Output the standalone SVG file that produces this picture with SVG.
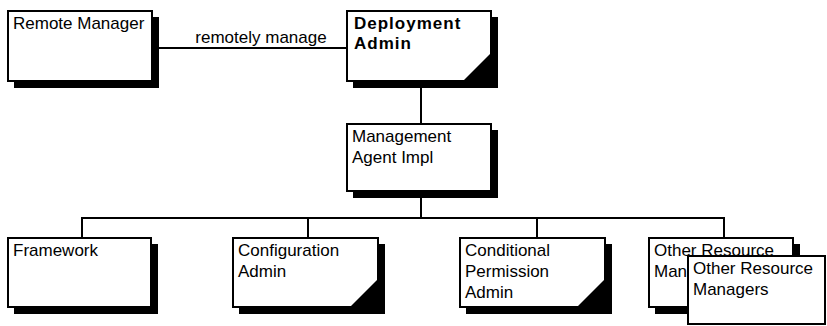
<svg xmlns="http://www.w3.org/2000/svg" width="827" height="326" viewBox="0 0 827 326">
<style>
.box{fill:#fff;stroke:#000;stroke-width:2}
.sh{fill:#000}
.tri{fill:#000}
.t{font-family:"Liberation Sans",Arial,sans-serif;font-size:17px;fill:#000}
.b{font-weight:bold;letter-spacing:1px}
.c{fill:none;stroke:#000;stroke-width:2}
</style>
<rect width="827" height="326" fill="#fff"/>
<g id="connectors">
<line class="c" x1="152" y1="48" x2="347" y2="48"/>
<text class="t" x="261" y="43" text-anchor="middle">remotely manage</text>
<line class="c" x1="421" y1="81" x2="421" y2="124"/>
<line class="c" x1="421" y1="191" x2="421" y2="218"/>
<polyline class="c" points="82,238 82,218 724,218 724,238"/>
<line class="c" x1="308" y1="218" x2="308" y2="238"/>
<line class="c" x1="537" y1="218" x2="537" y2="238"/>
</g>
<g id="remote-manager">
<rect class="sh" x="14" y="17" width="145" height="71"/>
<rect class="box" x="8" y="11" width="144" height="70"/>
<text class="t" x="13" y="29">Remote Manager</text>
</g>
<g id="deployment-admin">
<rect class="sh" x="353" y="17" width="145" height="71"/>
<rect class="box" x="347" y="11" width="144" height="70"/>
<polygon class="tri" points="463,81 491,53 491,81"/>
<text class="t b" x="354" y="29">Deployment</text>
<text class="t b" x="354" y="49">Admin</text>
</g>
<g id="management-agent">
<rect class="sh" x="353" y="130" width="145" height="68"/>
<rect class="box" x="347" y="124" width="144" height="67"/>
<text class="t" x="352" y="142">Management</text>
<text class="t" x="352" y="163">Agent Impl</text>
</g>
<g id="framework">
<rect class="sh" x="14" y="244" width="144" height="70"/>
<rect class="box" x="8" y="238" width="143" height="69"/>
<text class="t" x="13" y="256">Framework</text>
</g>
<g id="configuration-admin">
<rect class="sh" x="239" y="244" width="146" height="70"/>
<rect class="box" x="233" y="238" width="145" height="69"/>
<polygon class="tri" points="350,307 378,279 378,307"/>
<text class="t" x="238" y="256">Configuration</text>
<text class="t" x="238" y="277">Admin</text>
</g>
<g id="conditional-permission-admin">
<rect class="sh" x="466" y="244" width="146" height="70"/>
<rect class="box" x="460" y="238" width="145" height="69"/>
<polygon class="tri" points="577,307 605,279 605,307"/>
<text class="t" x="465" y="256">Conditional</text>
<text class="t" x="465" y="277">Permission</text>
<text class="t" x="465" y="298">Admin</text>
</g>
<g id="other-resource-managers-back">
<rect class="sh" x="655" y="244" width="145" height="70"/>
<rect class="box" x="649" y="238" width="144" height="69"/>
<text class="t" x="654" y="256">Other Resource</text>
<text class="t" x="654" y="277">Man</text>
</g>
<g id="other-resource-managers-front">
<rect class="box" x="688" y="256" width="137" height="68"/>
<text class="t" x="693" y="274">Other Resource</text>
<text class="t" x="693" y="295">Managers</text>
</g>
</svg>
